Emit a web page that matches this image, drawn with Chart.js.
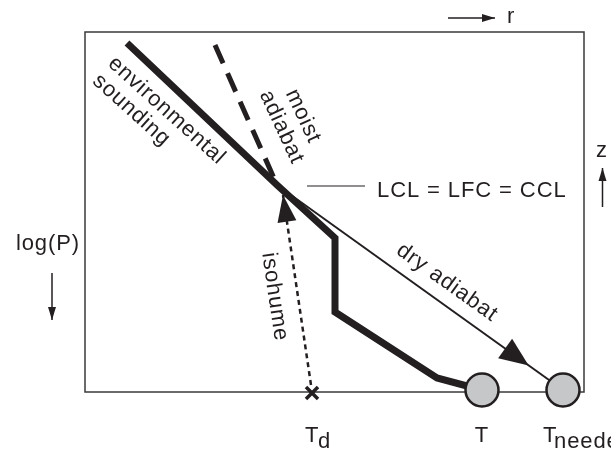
<!DOCTYPE html>
<html lang="en">
<head>
    <meta charset="UTF-8">
    <title>Sounding: LCL = LFC = CCL</title>
    <script src="https://cdn.jsdelivr.net/npm/chart.js@4.4.4/dist/chart.umd.min.js"></script>
    <style>
        body { margin: 0; background: #fff; }
        canvas { display: block; }
    </style>
</head>
<body>
    <canvas id="chart" width="611" height="451"></canvas>

    <script>
        // Schematic coordinates (x = temperature-ish, y = height-ish), arbitrary units
        const soundingX = [42, 192, 250, 250, 352, 397];
        const soundingY = [349, 207, 154, 80, 14, 2];
        const moistX = [130, 192];
        const moistY = [347, 207];
        const dryX = [192, 478];
        const dryY = [207, 2];
        const isohumeX = [226, 198];
        const isohumeY = [7, 197];
        const lclX = [222, 280];
        const lclY = [206, 206];
        const parcelX = [397, 478];   // T, T_needed
        const parcelY = [2, 2];
        const dewX = [227];           // T_d
        const dewY = [-1];

        const ink = '#231f20';
        const toXY = (xs, ys) => xs.map((x, i) => ({ x: x, y: ys[i] }));

        function lineSet(xs, ys, width, dash) {
            return {
                data: toXY(xs, ys),
                showLine: true,
                pointRadius: 0,
                borderColor: ink,
                borderWidth: width,
                borderDash: dash || [],
                borderJoinStyle: 'miter',
                borderCapStyle: 'butt',
                clip: false,
                order: 2
            };
        }

        function arrowHead(ctx, tx, ty, dx, dy, len, wid) {
            const n = Math.hypot(dx, dy);
            dx /= n; dy /= n;
            const bx = tx - dx * len, by = ty - dy * len;
            ctx.beginPath();
            ctx.moveTo(tx, ty);
            ctx.lineTo(bx - dy * wid / 2, by + dx * wid / 2);
            ctx.lineTo(bx + dy * wid / 2, by - dx * wid / 2);
            ctx.closePath();
            ctx.fill();
        }

        function text(ctx, s, x, y, angle, align) {
            ctx.save();
            ctx.translate(x, y);
            ctx.rotate(angle * Math.PI / 180);
            ctx.textAlign = align;
            ctx.fillText(s, 0, 0);
            ctx.restore();
        }

        const diagram = {
            id: 'diagram',
            beforeDatasetsDraw(chart) {
                const { ctx, chartArea: a } = chart;
                ctx.save();
                ctx.strokeStyle = '#3a3a3a';
                ctx.lineWidth = 1.5;
                ctx.strokeRect(a.left, a.top, a.right - a.left, a.bottom - a.top);
                ctx.restore();
            },
            afterDatasetsDraw(chart) {
                const { ctx } = chart;
                const xs = chart.scales.x, ys = chart.scales.y;
                const X = v => xs.getPixelForValue(v);
                const Y = v => ys.getPixelForValue(v);
                ctx.save();
                ctx.fillStyle = ink;
                ctx.strokeStyle = ink;

                // arrowhead on dry adiabat
                const t = 0.88;
                const dx0 = X(dryX[0]), dy0 = Y(dryY[0]), dx1 = X(dryX[1]), dy1 = Y(dryY[1]);
                arrowHead(ctx, dx0 + (dx1 - dx0) * t, dy0 + (dy1 - dy0) * t, dx1 - dx0, dy1 - dy0, 29, 24);

                // arrowhead on isohume
                const ix0 = X(isohumeX[0]), iy0 = Y(isohumeY[0]), ix1 = X(isohumeX[1]), iy1 = Y(isohumeY[1]);
                arrowHead(ctx, ix1, iy1, ix1 - ix0, iy1 - iy0, 27, 19);

                // direction indicators
                ctx.lineWidth = 1.5;
                const axisArrow = (x0, y0, x1, y1) => {
                    ctx.beginPath();
                    ctx.moveTo(X(x0), Y(y0));
                    ctx.lineTo(X(x1), Y(y1));
                    ctx.stroke();
                    arrowHead(ctx, X(x1), Y(y1), X(x1) - X(x0), Y(y1) - Y(y0), 13, 8);
                };
                axisArrow(-33, 119, -33, 72);     // log(P) down
                axisArrow(517.5, 185, 517.5, 224); // z up
                axisArrow(363, 374, 410, 374);     // r right

                ctx.font = '22px "Liberation Sans", Arial, Helvetica, sans-serif';
                ctx.textBaseline = 'alphabetic';
                if ('letterSpacing' in ctx) ctx.letterSpacing = '0.9px';

                text(ctx, 'LCL = LFC = CCL', X(292), Y(195), 0, 'left');
                text(ctx, 'log(P)', X(-5), Y(142), 0, 'right');
                text(ctx, 'z', X(517), Y(235), 0, 'center');
                text(ctx, 'r', X(422), Y(369), 0, 'left');

                text(ctx, 'environmental', X(22), Y(327), 42, 'left');
                text(ctx, 'sounding', X(6.6), Y(309.5), 42, 'left');
                text(ctx, 'moist', X(212.5), Y(273.2), 65, 'center');
                text(ctx, 'adiabat', X(191), Y(262.2), 65, 'center');
                text(ctx, 'isohume', X(183.6), Y(94.2), 81.7, 'center');
                text(ctx, 'dry adiabat', X(358.5), Y(104.5), 35.5, 'center');

                // bottom labels
                text(ctx, 'T', X(dewX[0] - 7), Y(-50), 0, 'left');
                text(ctx, 'd', X(dewX[0] + 6), Y(-56), 0, 'left');
                text(ctx, 'T', X(parcelX[0]), Y(-50), 0, 'center');
                text(ctx, 'T', X(parcelX[1] - 20), Y(-50), 0, 'left');
                text(ctx, 'needed', X(parcelX[1] - 9), Y(-56), 0, 'left');
                ctx.restore();
            }
        };

        new Chart(document.getElementById('chart'), {
            type: 'scatter',
            data: {
                datasets: [
                    {
                        data: toXY(parcelX, parcelY),
                        pointRadius: 16.5,
                        pointHoverRadius: 16.5,
                        backgroundColor: '#c6c7c9',
                        borderColor: ink,
                        borderWidth: 2.5,
                        clip: false,
                        order: 0
                    },
                    {
                        data: toXY(dewX, dewY),
                        pointStyle: 'crossRot',
                        pointRadius: 8.5,
                        pointHoverRadius: 8.5,
                        borderColor: ink,
                        borderWidth: 3.5,
                        clip: false,
                        order: 1
                    },
                    lineSet(soundingX, soundingY, 7),
                    lineSet(moistX, moistY, 5, [20, 11]),
                    lineSet(dryX, dryY, 2),
                    lineSet(isohumeX, isohumeY, 2.5, [5, 4]),
                    lineSet(lclX, lclY, 1.2)
                ]
            },
            options: {
                responsive: false,
                animation: false,
                events: [],
                layout: { padding: { left: 85, top: 32, right: 27, bottom: 59 } },
                plugins: {
                    legend: { display: false },
                    tooltip: { enabled: false }
                },
                scales: {
                    x: { type: 'linear', min: 0, max: 499, display: false },
                    y: { type: 'linear', min: 0, max: 360, display: false }
                }
            },
            plugins: [diagram]
        });
    </script>
</body>
</html>
